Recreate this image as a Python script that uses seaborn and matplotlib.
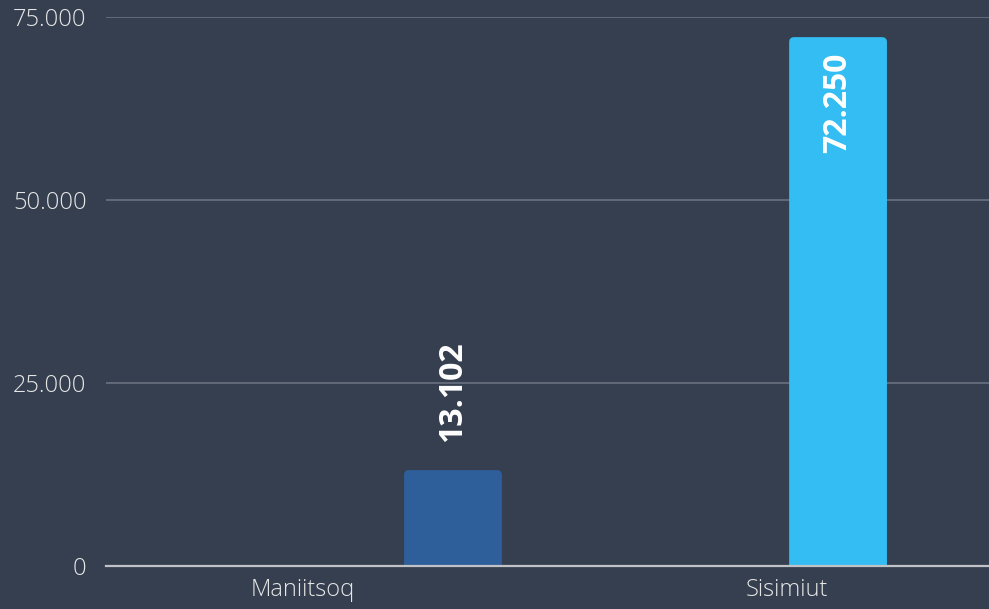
import matplotlib
matplotlib.use("Agg")
import matplotlib.pyplot as plt
from matplotlib.patches import FancyBboxPatch
import seaborn as sns
import pandas as pd

# Dados do gráfico
cidades = ["Maniitsoq", "Sisimiut"]
valores = [13102, 72250]
cores = ["#2e5f9a", "#33bdf2"]
yticks = [0, 25000, 50000, 75000]

BG = "#353f4f"

sns.set_theme(style="dark")
plt.rcParams["font.family"] = ["Open Sans", "DejaVu Sans"]

df = pd.DataFrame({"cidade": cidades, "valor": valores})

fig = plt.figure(figsize=(9.89, 6.09), dpi=100, facecolor=BG)
ax_w = 1 - 106 / 989
ax_h = (566 - 17) / 609
ax = fig.add_axes([106 / 989, 1 - 566 / 609, ax_w, ax_h])
ax.set_facecolor(BG)

sns.barplot(data=df, x="cidade", y="valor", hue="cidade", palette=cores,
            legend=False, width=0.254, saturation=1, linewidth=0, ax=ax)

xlim = (-0.901, 1.392)
ylim = (0, 75000)
ax.set_xlim(*xlim)
ax.set_ylim(*ylim)
ax.set_yticks(yticks)
ax.set_yticklabels([f"{v:,}".replace(",", ".") for v in yticks])
# rótulos das categorias ficam um pouco deslocados das barras
ax.set_xticks([-0.39, 0.868])
ax.set_xticklabels(cidades)
ax.set_xlabel("")
ax.set_ylabel("")

ax.grid(axis="y", color="#6b7282", linewidth=1.2)
ax.set_axisbelow(True)
for s in ["top", "right", "left"]:
    ax.spines[s].set_visible(False)
ax.spines["bottom"].set_color("#c0c2c6")
ax.spines["bottom"].set_linewidth(1.6)
ax.spines["bottom"].set_zorder(3)

ax.tick_params(axis="y", length=0, pad=14, labelsize=17, labelcolor="#e6e6e6")
ax.tick_params(axis="x", length=0, pad=9, labelsize=17, labelcolor="#e6e6e6")
for lbl in ax.get_xticklabels() + ax.get_yticklabels():
    lbl.set_fontweight("light")

# cantos superiores arredondados: troca cada barra por uma caixa arredondada
px_x = (xlim[1] - xlim[0]) / (989 * ax_w)
px_y = (ylim[1] - ylim[0]) / (609 * ax_h)
raio = 5
for bar in list(ax.patches):
    rb = FancyBboxPatch((bar.get_x(), -raio * px_y), bar.get_width(),
                        bar.get_height() + raio * px_y,
                        boxstyle=f"round,pad=0,rounding_size={raio * px_x}",
                        mutation_aspect=px_y / px_x,
                        facecolor=bar.get_facecolor(), linewidth=0, zorder=2)
    ax.add_patch(rb)
    bar.set_visible(False)

# rótulos de valor (rotacionados)
for x, v in zip(range(len(valores)), valores):
    txt = f"{v:,}".replace(",", ".")
    if v > 40000:
        ax.annotate(txt, (x, v), xytext=(0, -11), textcoords="offset points",
                    rotation=90, ha="center", va="top", color="white",
                    fontsize=23, fontweight="bold", zorder=4)
    else:
        ax.annotate(txt, (x, v), xytext=(0, 20), textcoords="offset points",
                    rotation=90, ha="center", va="bottom", color="white",
                    fontsize=23, fontweight="bold", zorder=4)

fig.savefig("out.png", dpi=100, facecolor=BG)
